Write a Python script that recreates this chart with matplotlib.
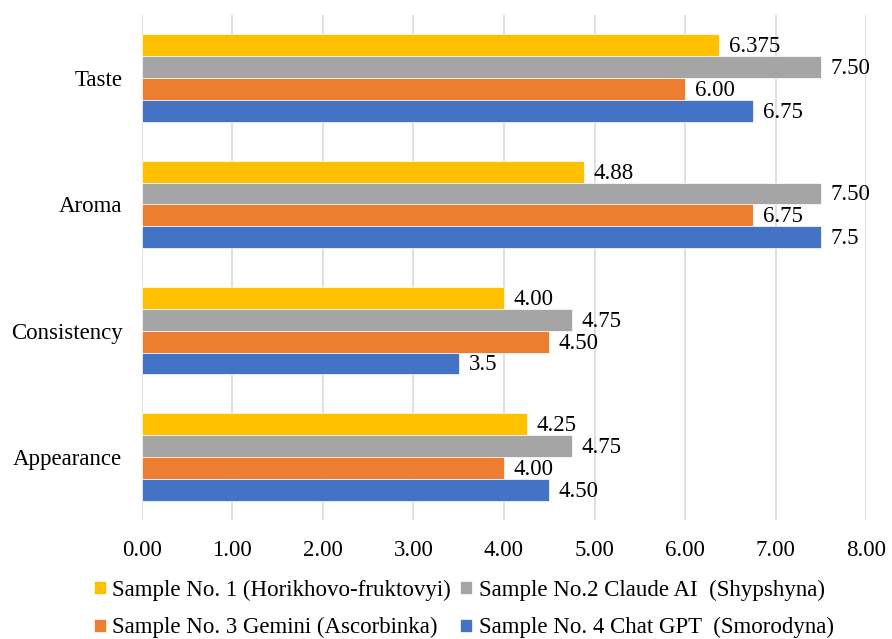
import matplotlib
matplotlib.use("Agg")
import matplotlib.pyplot as plt
import numpy as np

plt.rcParams['font.family'] = ['Liberation Serif', 'DejaVu Serif']

categories = ["Appearance", "Consistency", "Aroma", "Taste"]
series_names = [
    "Sample No. 1 (Horikhovo-fruktovyi)",
    "Sample No.2 Claude AI  (Shypshyna)",
    "Sample No. 3 Gemini (Ascorbinka)",
    "Sample No. 4 Chat GPT  (Smorodyna)",
]
colors = ["#FFC000", "#A5A5A5", "#ED7D31", "#4472C4"]

# values per series, in order of categories (Appearance, Consistency, Aroma, Taste)
sample1 = [4.25, 4.00, 4.88, 6.375]
sample2 = [4.75, 4.75, 7.50, 7.50]
sample3 = [4.00, 4.50, 6.75, 6.00]
sample4 = [4.50, 3.5, 7.5, 6.75]
values = [sample1, sample2, sample3, sample4]

labels1 = ["4.25", "4.00", "4.88", "6.375"]
labels2 = ["4.75", "4.75", "7.50", "7.50"]
labels3 = ["4.00", "4.50", "6.75", "6.00"]
labels4 = ["4.50", "3.5", "7.5", "6.75"]
labels = [labels1, labels2, labels3, labels4]

xticks = [0, 1, 2, 3, 4, 5, 6, 7, 8]
xticklabels = ["0.00", "1.00", "2.00", "3.00", "4.00", "5.00", "6.00", "7.00", "8.00"]

FS = 16.5

fig = plt.figure(figsize=(8.92, 6.39), dpi=100)
ax = fig.add_axes([0.159, 0.186, 0.812, 0.7905])

y = np.arange(len(categories))
h = 0.173
offsets = [1.5 * h, 0.5 * h, -0.5 * h, -1.5 * h]

handles = []
for vals, labs, off, col, name in zip(values, labels, offsets, colors, series_names):
    bars = ax.barh(y + off, vals, height=h, color=col, label=name, zorder=3,
                   edgecolor='white', linewidth=0.5)
    handles.append(bars)
    for yy, v, lab in zip(y + off, vals, labs):
        ax.annotate(lab, xy=(v, yy), xytext=(7, -1), textcoords='offset points',
                    va='center', ha='left', fontsize=FS, color='black', zorder=4)

ax.set_xlim(0, 8)
ax.set_ylim(-0.5, 3.5)
ax.set_xticks(xticks)
ax.set_xticklabels(xticklabels, fontsize=FS)
ax.set_yticks(y)
ax.set_yticklabels(categories, fontsize=FS)
ax.tick_params(axis='both', length=0)
ax.tick_params(axis='x', pad=14)
ax.tick_params(axis='y', pad=14)
ax.grid(axis='x', color='#D9D9D9', linewidth=1.2, zorder=0)
for s in ax.spines.values():
    s.set_visible(False)

order = [0, 2, 1, 3]
leg = fig.legend([handles[i] for i in order], [series_names[i] for i in order],
                 loc='lower center', bbox_to_anchor=(0.52, -0.031), ncol=2,
                 frameon=False, fontsize=FS, handlelength=0.5, handleheight=0.5,
                 handletextpad=0.3, columnspacing=0.4, labelspacing=0.7)

fig.savefig("out.png", dpi=100)
